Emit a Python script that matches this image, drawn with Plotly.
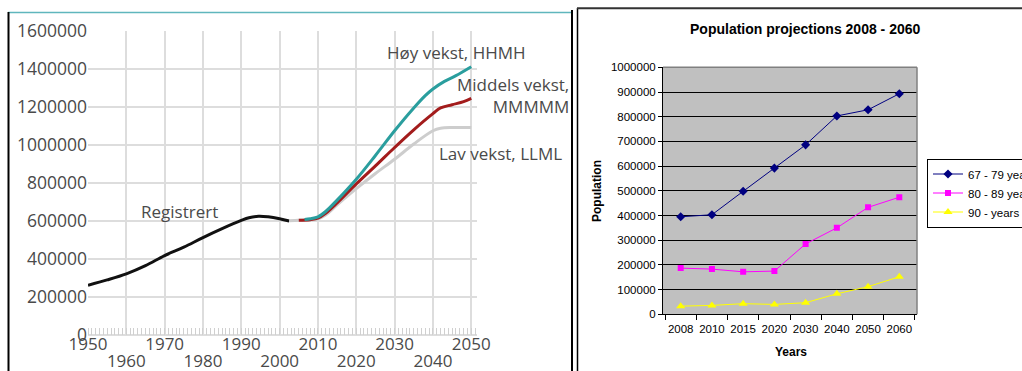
import plotly.graph_objects as go

# ---- Left chart: registered population and three projection alternatives ----
reg_years = [1950, 1955, 1960, 1965, 1970, 1975, 1980, 1985, 1990, 1992, 1994.5, 1997, 2000, 2002.5]
reg_values = [262000, 290000, 322000, 365000, 418000, 462000, 513000, 560000, 603000, 617000, 625000, 622000, 612000, 600000]

low_years = [2002.5, 2005, 2008, 2010, 2012, 2015, 2020, 2025, 2030, 2035, 2040, 2042, 2045, 2050]
low_values = [601000, 604000, 606000, 612000, 632000, 685000, 770000, 850000, 925000, 1005000, 1075000, 1088000, 1092000, 1092000]

mid_years = [2005, 2008, 2010, 2012, 2015, 2020, 2025, 2030, 2035, 2040, 2042, 2045, 2048, 2050]
mid_values = [604000, 607000, 615000, 640000, 695000, 795000, 890000, 987000, 1080000, 1165000, 1195000, 1212000, 1228000, 1245000]

high_years = [2006.5, 2008, 2010, 2012, 2015, 2020, 2025, 2030, 2035, 2038, 2040, 2043, 2046, 2050]
high_values = [608000, 612000, 622000, 650000, 710000, 820000, 945000, 1075000, 1195000, 1260000, 1295000, 1335000, 1365000, 1412000]

upper_row_years = [1950, 1970, 1990, 2010, 2030, 2050]
lower_row_years = [1960, 1980, 2000, 2020, 2040]
left_y_ticks = [0, 200000, 400000, 600000, 800000, 1000000, 1200000, 1400000, 1600000]

# ---- Right chart: projections by age group ----
proj_years = ["2008", "2010", "2015", "2020", "2030", "2040", "2050", "2060"]
age_67_79 = [395000, 403000, 498000, 592000, 686000, 803000, 828000, 893000]
age_80_89 = [187000, 183000, 172000, 175000, 285000, 350000, 433000, 474000]
age_90_plus = [33000, 36000, 43000, 40000, 47000, 83000, 112000, 152000]

W, H = 1022, 371


def px(x):
    return x / W


def py(y):
    return 1 - y / H


TXT = "#4a4a4a"
GRID = "#dddddd"
LEFT_FONT = "Open Sans"
RIGHT_FONT = "Arial"

fig = go.Figure()

fig.add_trace(go.Scatter(x=reg_years, y=reg_values, mode="lines", line=dict(color="#111111", width=3, shape="spline"),
                         showlegend=False, hoverinfo="skip", xaxis="x", yaxis="y"))
fig.add_trace(go.Scatter(x=low_years, y=low_values, mode="lines", line=dict(color="#cdcdcd", width=3, shape="spline"),
                         showlegend=False, hoverinfo="skip", xaxis="x", yaxis="y"))
fig.add_trace(go.Scatter(x=mid_years, y=mid_values, mode="lines", line=dict(color="#a31c1c", width=3, shape="spline"),
                         showlegend=False, hoverinfo="skip", xaxis="x", yaxis="y"))
fig.add_trace(go.Scatter(x=high_years, y=high_values, mode="lines", line=dict(color="#2a9e9e", width=3, shape="spline"),
                         showlegend=False, hoverinfo="skip", xaxis="x", yaxis="y"))
# carrier for the second row of year labels
fig.add_trace(go.Scatter(x=[], y=[], mode="lines", showlegend=False, hoverinfo="skip", xaxis="x3", yaxis="y"))

fig.add_trace(go.Scatter(x=proj_years, y=age_67_79, name="67 - 79 years", mode="lines+markers",
                         line=dict(color="#000080", width=1), marker=dict(symbol="diamond", size=7, color="#000080"),
                         xaxis="x2", yaxis="y2"))
fig.add_trace(go.Scatter(x=proj_years, y=age_80_89, name="80 - 89 years", mode="lines+markers",
                         line=dict(color="#ff00ff", width=1), marker=dict(symbol="square", size=6, color="#ff00ff"),
                         xaxis="x2", yaxis="y2"))
fig.add_trace(go.Scatter(x=proj_years, y=age_90_plus, name="90 - years", mode="lines+markers",
                         line=dict(color="#ffff00", width=1), marker=dict(symbol="triangle-up", size=8, color="#ffff00"),
                         xaxis="x2", yaxis="y2"))

x_dom_left = [px(88), px(477)]
x_range_left = [1950, 2051.5]

fig.update_layout(
    width=W, height=H,
    margin=dict(l=0, r=0, t=0, b=0, autoexpand=False),
    paper_bgcolor="white",
    plot_bgcolor="rgba(0,0,0,0)",
    xaxis=dict(
        domain=x_dom_left, range=x_range_left, anchor="y", automargin=False,
        tickmode="array",
        tickvals=upper_row_years + lower_row_years,
        ticktext=[str(v) for v in upper_row_years] + [""] * len(lower_row_years),
        showgrid=True, gridcolor=GRID, gridwidth=2,
        ticks="", showline=False, zeroline=False, tickangle=0,
        tickfont=dict(family=LEFT_FONT, size=17, color=TXT),
        ticklabelstandoff=-3,
        minor=dict(tick0=1950, dtick=1, ticks="inside", ticklen=7, tickcolor="#d0d0d0", tickwidth=1, showgrid=False),
    ),
    xaxis3=dict(
        overlaying="x", anchor="y", range=x_range_left, automargin=False,
        tickmode="array", tickvals=lower_row_years, ticktext=[str(v) for v in lower_row_years],
        showgrid=False, ticks="", showline=False, zeroline=False, tickangle=0,
        tickfont=dict(family=LEFT_FONT, size=17, color=TXT),
        ticklabelstandoff=14,
    ),
    yaxis=dict(
        domain=[py(335), py(31)], range=[0, 1600000], anchor="x", automargin=False,
        tickmode="array", tickvals=left_y_ticks, tickformat="d",
        showgrid=True, gridcolor=GRID, gridwidth=2,
        zeroline=True, zerolinecolor=GRID, zerolinewidth=2,
        ticks="", showline=False,
        tickfont=dict(family=LEFT_FONT, size=17.5, color=TXT),
    ),
    xaxis2=dict(
        domain=[px(663), px(917)], anchor="y2", type="category", automargin=False,
        showgrid=False, showline=True, linecolor="black", linewidth=1,
        ticks="outside", tickson="boundaries", ticklen=5, tickcolor="black", tickangle=0,
        tickfont=dict(family=RIGHT_FONT, size=11.5, color="black"),
        ticklabelstandoff=4,
    ),
    yaxis2=dict(
        domain=[py(314.3), py(67.3)], range=[0, 1000000], anchor="x2", automargin=False,
        dtick=100000, tickformat="d",
        showgrid=True, gridcolor="black", gridwidth=1, zeroline=False,
        showline=True, linecolor="black", linewidth=1,
        ticks="outside", ticklen=4, tickcolor="black",
        tickfont=dict(family=RIGHT_FONT, size=11.5, color="black"),
    ),
    legend=dict(
        xref="container", yref="container",
        x=px(927), y=py(158.5), xanchor="left", yanchor="top",
        bordercolor="black", borderwidth=1, bgcolor="white",
        font=dict(family=RIGHT_FONT, size=11.5, color="black"),
        tracegroupgap=0, itemwidth=30,
    ),
    showlegend=True,
)

# plot area fill and border of the right chart
fig.add_shape(type="rect", xref="x2 domain", yref="y2 domain", x0=0, x1=1, y0=0, y1=1,
              fillcolor="#c0c0c0", line=dict(width=0), layer="below")
fig.add_shape(type="line", xref="x2 domain", yref="y2 domain", x0=0, x1=1, y0=1, y1=1,
              line=dict(color="#808080", width=1.5), layer="above")
fig.add_shape(type="line", xref="x2 domain", yref="y2 domain", x0=1, x1=1, y0=0, y1=1,
              line=dict(color="#808080", width=1.5), layer="above")

# frames around the two panels
fig.add_shape(type="line", xref="paper", yref="paper", x0=px(8), x1=px(571), y0=py(12.5), y1=py(12.5),
              line=dict(color="#5fb6bd", width=1.5))
fig.add_shape(type="line", xref="paper", yref="paper", x0=px(8.5), x1=px(8.5), y0=py(12), y1=0,
              line=dict(color="black", width=2))
fig.add_shape(type="line", xref="paper", yref="paper", x0=px(572), x1=px(572), y0=py(10), y1=0,
              line=dict(color="black", width=2))
fig.add_shape(type="line", xref="paper", yref="paper", x0=px(577.5), x1=px(577.5), y0=py(8), y1=0,
              line=dict(color="black", width=1.5))
fig.add_shape(type="line", xref="paper", yref="paper", x0=px(577), x1=1, y0=py(8.3), y1=py(8.3),
              line=dict(color="#333333", width=2))

# series labels in the left chart
left_font = dict(family=LEFT_FONT, size=17, color=TXT)
fig.add_annotation(text="Registrert", xref="paper", yref="paper", x=px(179), y=py(211),
                   xanchor="center", yanchor="middle", showarrow=False, font=left_font)
fig.add_annotation(text="Høy vekst, HHMH", xref="paper", yref="paper", x=px(456), y=py(53),
                   xanchor="center", yanchor="middle", showarrow=False, font=left_font)
fig.add_annotation(text="Middels vekst,<br>MMMMM", xref="paper", yref="paper", x=px(571), y=py(95.5),
                   xanchor="right", yanchor="middle", align="right", showarrow=False, font=left_font)
fig.add_annotation(text="Lav vekst, LLML", xref="paper", yref="paper", x=px(500), y=py(153),
                   xanchor="center", yanchor="middle", showarrow=False, font=left_font)

# titles of the right chart
fig.add_annotation(text="<b>Population projections 2008 - 2060</b>", xref="paper", yref="paper",
                   x=px(805), y=py(29), xanchor="center", yanchor="middle", showarrow=False,
                   font=dict(family=RIGHT_FONT, size=14, color="black"))
fig.add_annotation(text="<b>Population</b>", xref="paper", yref="paper", textangle=-90,
                   x=px(597), y=py(191), xanchor="center", yanchor="middle", showarrow=False,
                   font=dict(family=RIGHT_FONT, size=12, color="black"))
fig.add_annotation(text="<b>Years</b>", xref="paper", yref="paper",
                   x=px(791), y=py(352), xanchor="center", yanchor="middle", showarrow=False,
                   font=dict(family=RIGHT_FONT, size=12, color="black"))

fig.write_html("out.html")
